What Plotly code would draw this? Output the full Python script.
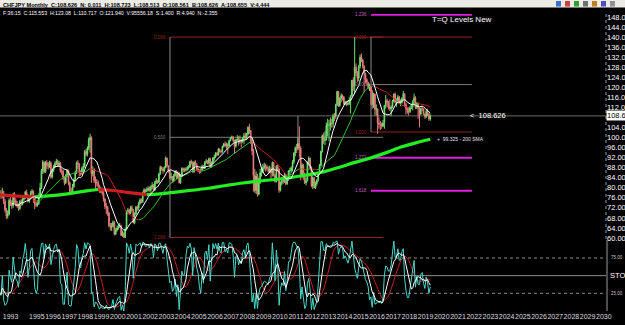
import numpy as np
import pandas as pd
import plotly.graph_objects as go

# ---------------- data (CHFJPY monthly, Feb 1993 - Sep 2019) ----------------
start_year, start_month = 1993, 2
first_open = 79.0
close = [
    77.5, 76.6, 78.0, 74.6, 71.0, 68.8, 69.5, 75.0, 73.7, 72.8, 77.4,
    74.8, 73.4, 73.0, 71.7, 74.6, 73.5, 75.3, 76.0, 78.3, 77.0, 74.8, 76.0,
    78.0, 78.5, 76.5, 73.7, 73.0, 73.7, 77.0, 80.0, 86.8, 90.2, 86.3, 90.0,
    89.0, 88.6, 90.0, 84.3, 86.9, 88.5, 89.7, 90.5, 89.1, 89.8, 86.7, 86.6,
    84.0, 82.0, 85.0, 86.8, 82.0, 78.5, 78.5, 80.4, 83.2, 86.0, 90.0, 89.4,
    86.0, 85.7, 87.8, 88.5, 94.4, 93.3, 95.8, 99.0, 100.0, 85.6, 87.2, 82.9,
    82.3, 82.0, 80.8, 78.6, 79.3, 78.0, 75.5, 72.6, 72.2, 69.9, 64.9, 64.3,
    64.6, 66.3, 61.5, 63.2, 64.0, 64.7, 64.9, 61.0, 61.8, 60.2, 63.4, 70.6,
    71.0, 69.8, 72.1, 71.0, 66.0, 69.6, 72.3, 72.0, 73.8, 75.2, 74.4, 78.0,
    79.2, 78.6, 79.0, 79.8, 79.0, 80.3, 81.0, 79.0, 82.2, 82.8, 82.2, 85.5,
    88.2, 87.5, 86.8, 88.0, 91.8, 88.7, 86.7, 84.1, 84.4, 82.6, 84.9, 86.5,
    84.0, 85.9, 82.0, 84.8, 87.7, 87.0, 87.0, 87.3, 88.0, 88.2, 90.4, 90.0,
    86.3, 90.2, 89.3, 87.4, 86.7, 86.6, 87.0, 88.6, 87.8, 90.2, 90.6, 89.9,
    91.6, 88.3, 89.9, 91.9, 92.3, 93.8, 93.1, 95.4, 94.5, 94.3, 96.5, 97.5,
    96.8, 97.2, 96.6, 98.8, 99.8, 100.2, 98.8, 96.5, 99.0, 99.4, 98.4, 98.8,
    98.5, 99.7, 100.7, 100.0, 101.4, 104.1, 102.8, 98.9, 94.6, 84.9, 78.9, 84.7,
    77.5, 83.5, 86.0, 86.5, 88.0, 88.7, 88.4, 87.7, 86.5, 87.5, 86.0, 90.0,
    85.0, 82.5, 88.6, 87.4, 79.0, 81.9, 83.0, 82.5, 85.0, 81.6, 83.3, 86.7,
    86.8, 88.0, 90.3, 93.8, 95.9, 95.8, 97.6, 95.8, 85.0, 89.0, 85.7, 82.0,
    82.8, 90.2, 91.8, 88.0, 80.7, 84.0, 80.0, 81.7, 82.9, 85.8, 89.0, 94.5,
    100.8, 98.8, 99.2, 104.8, 105.0, 105.0, 105.8, 105.6, 108.6, 108.5, 113.0, 118.3,
    112.7, 115.7, 116.7, 116.1, 113.5, 114.2, 113.2, 113.5, 114.9, 116.7, 122.8, 120.5,
    128.0, 125.6, 123.6, 128.4, 132.0, 131.0, 128.3, 125.5, 123.1, 122.0, 119.9, 120.1,
    118.4, 113.0, 117.3, 111.2, 111.4, 105.8, 105.3, 105.2, 104.5, 105.9, 112.7, 114.7,
    113.9, 112.2, 111.4, 112.1, 114.5, 117.3, 114.0, 114.6, 116.2, 113.9, 114.0, 115.7,
    117.4, 113.1, 111.5, 110.4, 110.4, 111.8, 112.9, 114.4, 115.8, 112.1, 113.6, 111.7,
    109.4, 111.6, 111.4, 109.3, 108.3, 110.5, 109.4, 107.4, 108.626,
]
high = [
    80.5, 79.0, 80.0, 78.8, 75.5, 72.0, 71.0, 75.8, 76.5, 75.0, 78.0,
    78.2, 75.8, 74.8, 73.8, 75.2, 75.5, 76.0, 77.0, 78.8, 79.2, 77.5, 76.8,
    78.8, 79.5, 79.0, 77.0, 75.0, 75.0, 77.8, 82.0, 87.5, 91.0, 90.5, 90.6,
    91.0, 90.2, 90.8, 90.5, 87.5, 89.2, 90.5, 91.5, 91.2, 90.8, 90.2, 87.8,
    87.2, 84.6, 85.5, 87.5, 87.2, 82.5, 79.8, 81.5, 83.8, 86.8, 90.5, 91.0,
    89.8, 87.0, 88.5, 89.8, 95.0, 95.5, 96.5, 100.0, 101.5, 100.5, 88.5, 87.8,
    84.5, 83.5, 83.0, 81.2, 80.2, 80.0, 78.8, 76.0, 74.0, 72.8, 70.5, 66.0,
    66.0, 67.0, 66.8, 64.0, 65.0, 65.5, 66.0, 65.2, 63.0, 62.5, 64.2, 71.0,
    72.0, 71.5, 72.8, 73.0, 71.5, 70.2, 72.8, 73.0, 74.5, 75.8, 75.8, 78.5,
    79.8, 79.6, 80.2, 80.6, 80.5, 81.0, 82.2, 81.5, 82.8, 83.8, 83.2, 86.0,
    88.8, 88.6, 88.2, 88.6, 92.5, 92.0, 89.0, 87.0, 86.0, 84.6, 85.5, 87.0,
    87.0, 86.5, 86.2, 85.5, 88.2, 88.0, 88.0, 88.2, 88.6, 89.0, 90.8, 91.2,
    90.5, 90.6, 91.0, 89.8, 88.0, 87.4, 87.8, 89.2, 89.0, 90.6, 91.5, 91.0,
    92.0, 92.0, 90.5, 92.2, 93.2, 94.2, 94.2, 95.8, 95.6, 95.0, 96.8, 97.8,
    98.5, 98.0, 97.8, 99.2, 100.2, 100.8, 100.5, 99.2, 99.5, 101.0, 100.5, 100.8,
    99.5, 100.2, 101.8, 102.0, 101.8, 104.5, 105.5, 103.0, 100.0, 95.5, 87.5, 86.5,
    85.5, 84.0, 87.5, 88.0, 89.5, 90.0, 89.6, 89.2, 88.5, 88.8, 88.2, 90.5,
    90.2, 85.6, 89.0, 89.5, 87.8, 82.5, 84.0, 84.0, 86.0, 85.5, 84.5, 87.0,
    88.0, 88.5, 91.0, 94.2, 96.5, 97.5, 100.0, 104.5, 96.5, 89.8, 89.5, 86.0,
    84.0, 90.5, 92.5, 92.0, 88.5, 84.5, 84.2, 82.5, 83.5, 86.2, 89.5, 94.8,
    101.2, 102.0, 102.5, 106.0, 107.5, 107.0, 108.0, 107.5, 109.5, 109.8, 113.5, 118.6,
    118.5, 116.0, 117.6, 117.2, 116.5, 114.6, 114.4, 114.6, 116.0, 117.0, 123.0, 124.0,
    140.0, 129.5, 126.5, 128.8, 133.0, 133.5, 131.2, 128.8, 125.8, 123.6, 122.2, 121.5,
    120.5, 119.0, 117.8, 117.5, 113.2, 111.6, 108.0, 106.5, 106.0, 107.0, 113.0, 117.0,
    115.5, 114.6, 115.2, 112.8, 115.0, 117.5, 118.0, 115.6, 117.0, 116.5, 115.2, 116.0,
    118.6, 117.6, 113.8, 112.0, 112.2, 112.5, 113.5, 114.8, 117.5, 116.5, 114.0, 114.0,
    112.0, 111.9, 112.5, 111.6, 109.6, 111.0, 111.5, 109.8, 109.2,
]
low = [
    76.5, 75.5, 75.8, 73.5, 70.2, 67.5, 67.8, 69.0, 72.8, 71.5, 72.0,
    74.0, 72.6, 72.0, 70.8, 71.2, 72.8, 73.0, 74.8, 75.5, 76.3, 74.2, 74.0,
    75.5, 77.2, 74.0, 71.5, 72.3, 72.5, 73.2, 76.5, 79.5, 85.5, 85.8, 86.0,
    87.5, 87.3, 87.8, 83.6, 83.8, 86.2, 87.8, 89.0, 88.5, 88.3, 86.0, 85.2,
    83.2, 81.0, 81.5, 84.2, 81.0, 77.5, 77.6, 78.0, 80.0, 82.5, 85.5, 87.5,
    84.5, 84.8, 85.2, 86.5, 88.0, 92.5, 92.5, 95.0, 94.0, 82.0, 84.5, 81.8,
    79.5, 80.5, 79.6, 78.0, 77.8, 77.0, 74.5, 71.5, 69.5, 68.8, 64.2, 63.0,
    62.8, 64.2, 61.0, 61.2, 62.5, 63.3, 64.0, 60.8, 60.5, 60.4, 60.0, 63.0,
    69.5, 69.2, 69.5, 70.5, 65.8, 65.5, 69.2, 70.8, 71.0, 73.2, 73.8, 74.0,
    77.5, 78.0, 78.2, 78.5, 78.5, 78.0, 79.5, 78.5, 78.8, 81.5, 81.6, 81.8,
    85.2, 86.8, 85.6, 86.2, 87.8, 88.2, 86.0, 83.5, 83.2, 82.0, 82.2, 84.5,
    83.5, 83.6, 81.8, 81.5, 84.2, 86.2, 86.2, 86.4, 86.8, 87.2, 88.0, 89.2,
    86.0, 86.0, 88.8, 86.8, 86.2, 85.6, 85.8, 86.8, 87.4, 87.5, 89.6, 89.4,
    89.2, 88.0, 88.0, 89.5, 90.8, 91.8, 92.6, 92.8, 94.0, 93.6, 94.0, 96.0,
    96.2, 95.6, 93.5, 96.4, 98.5, 99.4, 98.2, 93.5, 96.0, 98.6, 96.8, 97.5,
    96.0, 97.8, 97.5, 99.0, 99.2, 100.8, 101.5, 97.5, 93.0, 78.5, 78.0, 77.5,
    76.5, 77.0, 81.5, 84.5, 85.8, 87.2, 86.5, 86.8, 86.0, 85.8, 83.0, 84.5,
    84.5, 82.0, 82.2, 86.5, 78.0, 78.5, 81.0, 81.5, 82.0, 81.0, 81.2, 82.8,
    84.0, 86.0, 86.5, 89.5, 92.5, 93.8, 95.0, 92.0, 83.0, 84.0, 83.2, 81.5,
    81.0, 82.5, 88.8, 87.2, 80.2, 79.5, 79.8, 79.5, 80.8, 82.5, 85.2, 88.5,
    94.0, 97.5, 97.0, 98.8, 100.5, 98.5, 102.8, 104.0, 104.0, 106.5, 107.5, 112.5,
    112.2, 112.3, 114.0, 114.8, 113.0, 113.0, 112.5, 112.8, 113.0, 109.5, 116.3, 118.5,
    117.5, 124.5, 122.0, 122.5, 127.5, 130.0, 127.5, 118.0, 121.5, 120.5, 119.2, 118.5,
    113.0, 111.5, 111.8, 108.8, 108.8, 101.5, 103.5, 103.0, 103.5, 104.2, 103.5, 111.5,
    112.0, 111.2, 110.6, 108.5, 111.6, 114.0, 113.5, 112.3, 113.5, 113.5, 112.5, 113.5,
    115.0, 112.2, 109.2, 109.5, 108.8, 109.8, 111.3, 110.8, 113.5, 111.3, 111.4, 107.5,
    104.0, 109.0, 110.5, 108.9, 107.5, 107.8, 108.5, 106.7, 106.7,
]

# 200 SMA (thick line): (decimal year, value)
sma200_t = [1993.15, 1994.0, 1995.3, 1996.5, 1997.5, 1998.5, 1999.2, 2000.0, 2001.0, 2002.2,
            2003.0, 2004.0, 2005.0, 2006.0, 2007.0, 2008.0, 2009.0, 2010.0, 2011.0, 2012.0,
            2013.0, 2014.0, 2015.0, 2016.0, 2017.0, 2018.0, 2019.0, 2019.71]
sma200_v = [77.2, 76.8, 76.4, 77.0, 77.8, 78.8, 79.3, 79.0, 78.2, 77.3,
            77.6, 78.3, 79.0, 79.8, 80.8, 81.8, 82.6, 83.2, 84.0, 85.0,
            86.2, 88.0, 90.0, 91.8, 94.0, 96.4, 98.2, 99.325]

# Fibonacci levels
fib_top = 140.0
fibA_low, fibA_start, fibA_end = 60.2, 2003.64, 2016.8
fibA_ratios = [0.0, 0.5, 1.0]
fibA_labels = ["0.000", "0.500", "1.000"]
fibB_low, fibB_start, fibB_end = 102.2, 2016.05, 2022.28
fibB_ratios = [-0.236, 0.0, 0.5, 1.0, 1.272, 1.618]
fibB_labels = ["1.236", "0.000", "0.500", "1.000", "1.272", "1.618"]
spike_marker_t = 2011.54

last_price = 108.626
price_ticks = [p for p in range(60, 149, 4) if p != 108]
year_labels = [1993] + list(range(1995, 2031))

header1 = "CHFJPY Monthly  C:108.626  N: 0.011  H:108.723  L:108.513  O:108.561  B:108.626  A:108.655  V:4,444"
header2 = "F:36:15  C:115.553  H:123.08  L:110.717  O:121.940  V:95556.18  S:1.400  R:4.940  N:-2.355"

# ---------------- derived ----------------
n = len(close)
t = np.array([start_year + (start_month - 1 + i) / 12 + 1 / 24 for i in range(n)])
c = np.array(close)
o = np.array([first_open] + close[:-1])
h = np.maximum(np.array(high), np.maximum(o, c))
l = np.minimum(np.array(low), np.minimum(o, c))

sc = pd.Series(c)
ma_white = sc.rolling(10).mean().to_numpy()
ma_mid = sc.rolling(26).mean().to_numpy()

hh = pd.Series(h).rolling(14, min_periods=1).max()
ll = pd.Series(l).rolling(14, min_periods=1).min()
sto_k = (100 * (sc - ll) / (hh - ll)).to_numpy()
sto_w = pd.Series(sto_k).rolling(6, min_periods=1).mean()
sto_r = sto_w.rolling(9, min_periods=1).mean().to_numpy()
sto_w = sto_w.to_numpy()


def slope_split(xs, ys):
    gx, gy, rx, ry = [], [], [], []
    for i in range(1, len(xs)):
        if np.isnan(ys[i - 1]) or np.isnan(ys[i]):
            continue
        up = ys[i] >= ys[i - 1]
        tx, ty = (gx, gy) if up else (rx, ry)
        if not (tx and tx[-1] == xs[i - 1]):
            if tx:
                tx.append(None)
                ty.append(None)
            tx.append(xs[i - 1])
            ty.append(ys[i - 1])
        tx.append(xs[i])
        ty.append(ys[i])
    return gx, gy, rx, ry


W, H = 625, 325
PW = 606  # plot area width in px


def px(xp):
    return xp / PW


def py(yp):
    return 1 - yp / H


fig = go.Figure()

# thick 200 SMA
gx, gy, rx, ry = slope_split(list(sma200_t), list(sma200_v))
fig.add_trace(go.Scatter(x=gx, y=gy, mode="lines", line=dict(color="#22ee22", width=3.2, shape="spline"),
                         hoverinfo="skip", showlegend=False))
fig.add_trace(go.Scatter(x=rx, y=ry, mode="lines", line=dict(color="#cc2020", width=3.2, shape="spline"),
                         hoverinfo="skip", showlegend=False))

# candles
fig.add_trace(go.Candlestick(
    x=t, open=o, high=h, low=l, close=c,
    increasing=dict(line=dict(color="#6ee06e", width=1), fillcolor="#9cf09c"),
    decreasing=dict(line=dict(color="#e87a7a", width=1), fillcolor="#f2a6a6"),
    whiskerwidth=0, showlegend=False, hoverinfo="skip"))

# mid MA coloured by slope
gx, gy, rx, ry = slope_split(list(t), list(ma_mid))
fig.add_trace(go.Scatter(x=gx, y=gy, mode="lines", line=dict(color="#2fbf2f", width=1),
                         hoverinfo="skip", showlegend=False))
fig.add_trace(go.Scatter(x=rx, y=ry, mode="lines", line=dict(color="#c81e1e", width=1),
                         hoverinfo="skip", showlegend=False))
# white MA
fig.add_trace(go.Scatter(x=t, y=ma_white, mode="lines", line=dict(color="#ffffff", width=1),
                         hoverinfo="skip", showlegend=False))

# stochastic panel
fig.add_trace(go.Scatter(x=t, y=sto_r, yaxis="y2", mode="lines", line=dict(color="#c81e1e", width=1),
                         hoverinfo="skip", showlegend=False))
fig.add_trace(go.Scatter(x=t, y=sto_k, yaxis="y2", mode="lines", line=dict(color="#48d8c8", width=1),
                         hoverinfo="skip", showlegend=False))
fig.add_trace(go.Scatter(x=t, y=sto_w, yaxis="y2", mode="lines", line=dict(color="#ffffff", width=1),
                         hoverinfo="skip", showlegend=False))

shapes = []
annos = []
tiny = dict(family="Arial", size=4.5)

# fib A
for r, lab in zip(fibA_ratios, fibA_labels):
    lvl = fib_top - r * (fib_top - fibA_low)
    col = "#7a7a7a" if r == 0.5 else "#9a2020"
    shapes.append(dict(type="line", xref="x", yref="y", x0=fibA_start, x1=fibA_end, y0=lvl, y1=lvl,
                       line=dict(color=col, width=1), layer="below"))
    annos.append(dict(x=fibA_start - 0.1, y=lvl, xref="x", yref="y", text=lab, showarrow=False,
                      xanchor="right", yanchor="middle", font=dict(color=col, **tiny)))
shapes.append(dict(type="line", xref="x", yref="y", x0=fibA_start, x1=fibA_start, y0=fib_top, y1=fibA_low,
                   line=dict(color="#8a8a8a", width=1), layer="below"))
# fib B
for r, lab in zip(fibB_ratios, fibB_labels):
    lvl = fib_top - r * (fib_top - fibB_low)
    if r in (0.0, 1.0):
        col, wd = "#9a2020", 1
    elif r == 0.5:
        col, wd = "#7a7a7a", 1
    else:
        col, wd = "#e01ee0", 2
    shapes.append(dict(type="line", xref="x", yref="y", x0=fibB_start, x1=fibB_end, y0=lvl, y1=lvl,
                       line=dict(color=col, width=wd), layer="below"))
    annos.append(dict(x=fibB_start - 0.1, y=lvl, xref="x", yref="y", text=lab, showarrow=False,
                      xanchor="right", yanchor="middle",
                      font=dict(color=("#c060c0" if wd == 2 else col), **tiny)))
shapes.append(dict(type="line", xref="x", yref="y", x0=fibB_start, x1=fibB_start, y0=fib_top, y1=fibB_low,
                   line=dict(color="#8a8a8a", width=1), layer="below"))
# spike marker vertical
shapes.append(dict(type="line", xref="x", yref="y", x0=spike_marker_t, x1=spike_marker_t, y0=last_price, y1=95.0,
                   line=dict(color="#8a8a8a", width=1), layer="below"))
# current price line
shapes.append(dict(type="line", xref="paper", yref="y", x0=0, x1=1, y0=last_price, y1=last_price,
                   line=dict(color="#6e6e60", width=1), layer="below"))
# right axis dotted line main panel
shapes.append(dict(type="line", xref="paper", yref="paper", x0=1, x1=1, y0=py(239), y1=py(13),
                   line=dict(color="#9a9a9a", width=1, dash="dot")))
# STO panel lines
for lv, dash in [(75, "dot"), (50, "solid"), (25, "dot")]:
    shapes.append(dict(type="line", xref="paper", yref="y2", x0=0, x1=1, y0=lv, y1=lv,
                       line=dict(color="#8c8c8c", width=1, dash=dash), layer="below"))
shapes.append(dict(type="line", xref="paper", yref="paper", x0=px(607), x1=px(607), y0=py(311), y1=py(240),
                   line=dict(color="#9a9a9a", width=1)))
# header bar
shapes.append(dict(type="rect", xref="paper", yref="paper", x0=0, x1=px(W), y0=py(7.5), y1=py(0),
                   fillcolor="#ecebe6", line=dict(width=0)))
# toolbar icons
icon_cols = ["#3a6fd0", "#d04040", "#30a030", "#707070", "#c08020", "#5050c0", "#909090"]
for i, col in enumerate(icon_cols):
    x0 = 556 + i * 9
    shapes.append(dict(type="rect", xref="paper", yref="paper", x0=px(x0), x1=px(x0 + 5), y0=py(6.5), y1=py(1),
                       fillcolor=col, line=dict(width=0)))

annos += [
    dict(x=px(1), y=py(0.3), xref="paper", yref="paper", text="<b>" + header1 + "</b>", showarrow=False,
         xanchor="left", yanchor="top", font=dict(family="Arial", size=5.6, color="#000000")),
    dict(x=px(1), y=py(8), xref="paper", yref="paper", text=header2, showarrow=False,
         xanchor="left", yanchor="top", font=dict(family="Arial", size=5.2, color="#ffffff")),
    dict(x=2021.67, y=147.0, xref="x", yref="y", text="T=Q Levels New", showarrow=False,
         xanchor="center", yanchor="middle", font=dict(family="Arial", size=8, color="#ffffff")),
    dict(x=2022.04, y=last_price, xref="x", yref="y", text="<  " + f"{last_price:.3f}", showarrow=False,
         xanchor="left", yanchor="middle", font=dict(family="Arial", size=7.5, color="#ffffff")),
    dict(x=sma200_t[-1] + 0.3, y=sma200_v[-1], xref="x", yref="y",
         text="+  " + f"{sma200_v[-1]:.3f}" + " - 200 SMA", showarrow=False,
         xanchor="left", yanchor="middle", font=dict(family="Arial", size=5, color="#e0e0e0")),
    dict(x=1.0, y=last_price, xref="paper", yref="y", text=f"{last_price:.3f}", showarrow=False,
         xanchor="left", yanchor="middle", bgcolor="#ffffff", borderpad=0,
         font=dict(family="Arial", size=7.5, color="#000000")),
    dict(x=px(609), y=75, xref="paper", yref="y2", text="75.00", showarrow=False,
         xanchor="left", yanchor="middle", font=dict(family="Arial", size=4.5, color="#c0c0c0")),
    dict(x=px(609), y=25, xref="paper", yref="y2", text="25.00", showarrow=False,
         xanchor="left", yanchor="middle", font=dict(family="Arial", size=4.5, color="#c0c0c0")),
    dict(x=px(608), y=50, xref="paper", yref="y2", text="STO", showarrow=False,
         xanchor="left", yanchor="middle", font=dict(family="Arial", size=7.5, color="#ffffff")),
]

x_lo = 1995 + (0 - 30) / 16.2
x_hi = 1995 + (PW - 30) / 16.2
tickvals = [max(y + 0.42, 1993.8) for y in year_labels]

fig.update_layout(
    width=W, height=H,
    margin=dict(l=0, r=W - PW, t=0, b=0),
    paper_bgcolor="#000000", plot_bgcolor="#000000",
    showlegend=False,
    shapes=shapes, annotations=annos,
    xaxis=dict(range=[x_lo, x_hi], anchor="y2", showgrid=False, zeroline=False,
               rangeslider=dict(visible=False), tickmode="array", tickvals=tickvals,
               ticktext=[str(y) for y in year_labels], ticks="", automargin=False, tickangle=0,
               tickfont=dict(family="Arial", size=7, color="#dcdcdc"), showline=False),
    yaxis=dict(domain=[py(239), py(14)], range=[59.6, 149.2], side="right", showgrid=False,
               zeroline=False, tickmode="array", tickvals=price_ticks, tickformat=".2f",
               ticks="", automargin=False, showline=False,
               tickfont=dict(family="Arial", size=7.5, color="#ffffff")),
    yaxis2=dict(domain=[py(311), py(240.3)], range=[0, 100], showgrid=False, zeroline=False,
                showticklabels=False, ticks="", automargin=False, side="right"),
)

fig.write_html("out.html")
